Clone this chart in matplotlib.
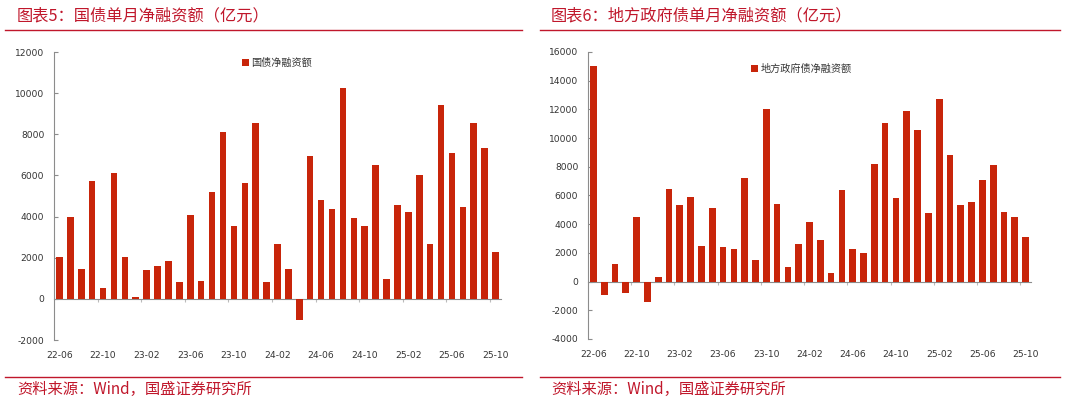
import matplotlib
matplotlib.use("Agg")
import matplotlib.pyplot as plt
import numpy as np

plt.rcParams['font.family'] = ['DejaVu Sans', 'Noto Sans CJK SC']

months = ["22-06","22-07","22-08","22-09","22-10","22-11","22-12",
          "23-01","23-02","23-03","23-04","23-05","23-06","23-07","23-08","23-09","23-10","23-11","23-12",
          "24-01","24-02","24-03","24-04","24-05","24-06","24-07","24-08","24-09","24-10","24-11","24-12",
          "25-01","25-02","25-03","25-04","25-05","25-06","25-07","25-08","25-09","25-10"]

treasury = [2030, 3970, 1440, 5710, 550, 6100, 2030,
            100, 1400, 1620, 1860, 800, 4100, 845, 5200, 8100, 3520, 5640, 8530,
            800, 2675, 1440, -1020, 6955, 4800, 4345, 10250, 3925, 3520, 6520, 955,
            4555, 4215, 6000, 2690, 9435, 7085, 4460, 8530, 7330, 2270]

local = [15050, -920, 1240, -790, 4500, -1390, 300,
         6430, 5330, 5870, 2480, 5100, 2410, 2270, 7230, 1510, 12060, 5430, 1020,
         2620, 4150, 2880, 580, 6380, 2300, 1970, 8210, 11080, 5800, 11870, 10550,
         4790, 12750, 8810, 5330, 5570, 7050, 8160, 4820, 4480, 3080]

titles = ["图表5：国债单月净融资额（亿元）", "图表6：地方政府债单月净融资额（亿元）"]
legend_labels = ["国债净融资额", "地方政府债净融资额"]
source = "资料来源：Wind，国盛证券研究所"

yticks_left = [-2000, 0, 2000, 4000, 6000, 8000, 10000, 12000]
yticks_right = [-4000, -2000, 0, 2000, 4000, 6000, 8000, 10000, 12000, 14000, 16000]

RED = '#C0172B'
BAR = '#C8250A'
GRAY = '#8C8C8C'
TXT = '#333333'
CJK = ['Noto Sans CJK SC', 'DejaVu Sans']

fig = plt.figure(figsize=(10.65, 4.01), dpi=100)

def panel(rect, values, yticks, legend_label, bar_w, leg_anchor):
    ax = fig.add_axes(rect)
    x = np.arange(len(months))
    ax.bar(x, values, width=bar_w, color=BAR, label=legend_label, zorder=3)
    ymin, ymax = yticks[0], yticks[-1]
    ax.set_ylim(ymin, ymax)
    ax.set_xlim(-0.5, len(months) - 0.5)
    ax.set_yticks(yticks)
    ax.set_yticklabels([str(v) for v in yticks])
    ax.set_xticks(x[::4])
    ax.set_xticklabels(months[::4])
    for s in ['top', 'right', 'bottom']:
        ax.spines[s].set_visible(False)
    ax.spines['left'].set_color(GRAY)
    ax.spines['left'].set_linewidth(0.8)
    ax.tick_params(axis='y', direction='in', length=3, color=GRAY, labelsize=6.6,
                   labelcolor=TXT, pad=7)
    ax.tick_params(axis='x', length=0, labelsize=6.6, labelcolor=TXT, pad=8)
    # zero axis with boundary ticks
    loc = (0 - ymin) / (ymax - ymin)
    sec = ax.secondary_xaxis(loc)
    sec.set_xticks(np.arange(-0.5, len(months), 4)[1:])
    sec.tick_params(length=2.5, direction='out', color='#BBBBBB', labelbottom=False)
    sec.spines['bottom'].set_color(GRAY)
    sec.spines['bottom'].set_linewidth(0.8)
    leg = ax.legend(loc='center left', bbox_to_anchor=leg_anchor, frameon=False,
                    handlelength=0.7, handleheight=0.7, handletextpad=0.25,
                    borderpad=0, borderaxespad=0,
                    prop={'family': CJK, 'size': 7.3})
    for t in leg.get_texts():
        t.set_color(TXT)
    return ax

panel([54/1065, 1-340/401, 447/1065, 288/401], treasury, yticks_left,
      legend_labels[0], 0.6, (0.42, 0.963))
panel([588/1065, 1-339/401, 443/1065, 287/401], local, yticks_right,
      legend_labels[1], 0.62, (0.368, 0.942))

# titles, rules, sources
for x0, x1, xt, title in [(5, 522, 17, titles[0]), (540, 1060, 551, titles[1])]:
    fig.text(xt/1065, 1-16/401, title, color=RED, fontsize=11.7, family=CJK,
             ha='left', va='center', style='italic')
    fig.add_artist(plt.Line2D([x0/1065, x1/1065], [1-30/401, 1-30/401],
                              color=RED, lw=1.0))
    fig.add_artist(plt.Line2D([x0/1065, x1/1065], [1-377/401, 1-377/401],
                              color=RED, lw=1.0))
    fig.text(xt/1065, 1-389/401, source, color=RED, fontsize=11, family=CJK,
             ha='left', va='center', style='italic')

fig.savefig('out.png', dpi=100, facecolor='white')
